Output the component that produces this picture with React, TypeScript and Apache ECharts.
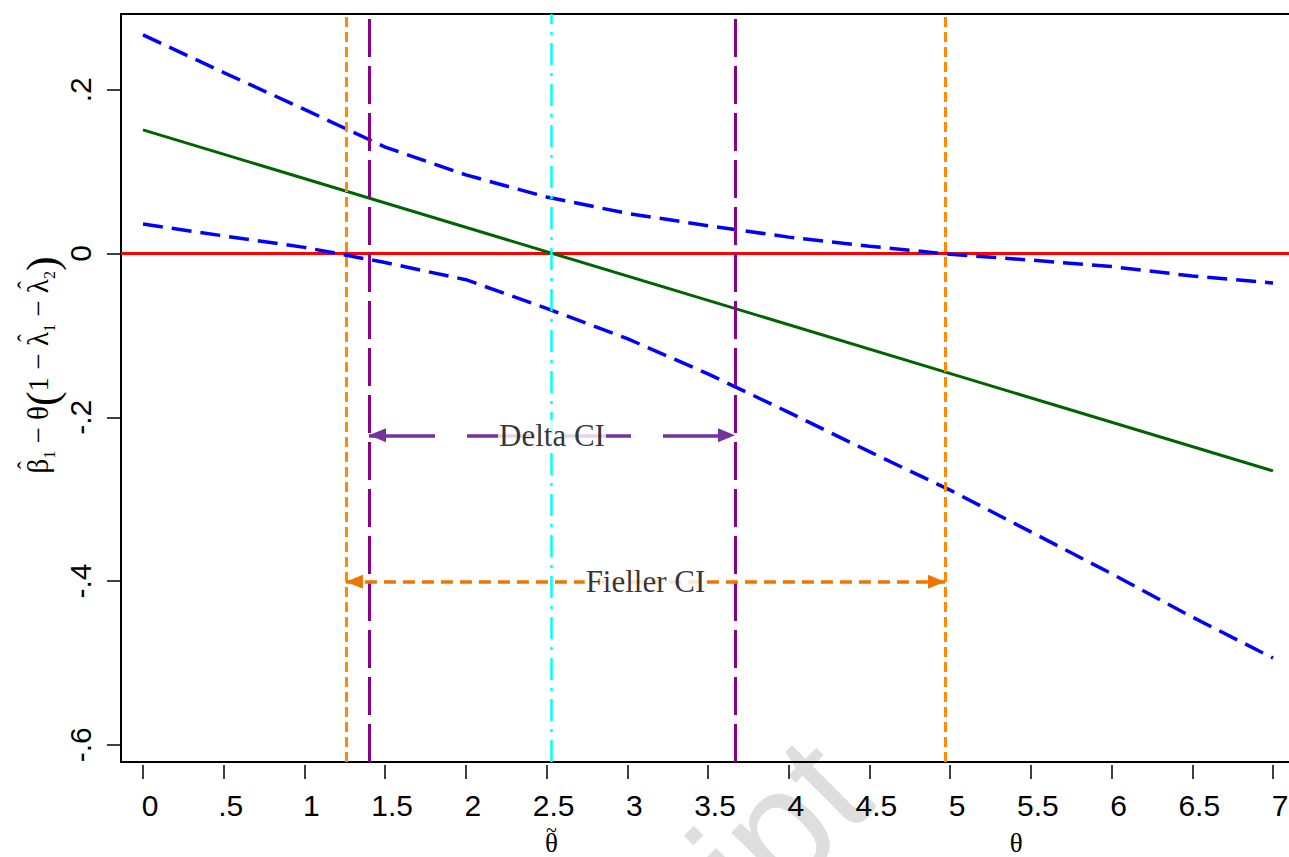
import React, { useEffect, useRef } from "react";
import * as echarts from "echarts";

// ---- data ----
const thetaGrid = [0, 0.5, 1, 1.5, 2, 2.5, 3, 3.5, 4, 4.5, 5, 5.5, 6, 6.5, 7];
const upperCI = [0.267, 0.221, 0.176, 0.13, 0.096, 0.069, 0.049, 0.034, 0.02, 0.009, -0.001, -0.008, -0.016, -0.0275, -0.036];
const lowerCI = [0.036, 0.0215, 0.0075, -0.011, -0.032, -0.067, -0.104, -0.147, -0.194, -0.242, -0.289, -0.34, -0.391, -0.444, -0.494];
const estTheta = [0, 7];
const estValues = [0.151, -0.2655];

const thetaTilde = 2.53;
const deltaCI = [1.4, 3.667];
const fiellerCI = [1.257, 4.968];
const deltaArrowY = -0.222;
const fiellerArrowY = -0.401;
const ciLabels = ["Delta CI", "Fieller CI"];

const xTicks = [0, 0.5, 1, 1.5, 2, 2.5, 3, 3.5, 4, 4.5, 5, 5.5, 6, 6.5, 7];
const xTickLabels = ["0", ".5", "1", "1.5", "2", "2.5", "3", "3.5", "4", "4.5", "5", "5.5", "6", "6.5", "7"];
const yTicks = [-0.6, -0.4, -0.2, 0, 0.2];
const yTickLabels = ["-.6", "-.4", "-.2", "0", ".2"];
const thetaMarks = [thetaTilde, 5.41];
const thetaMarkAccents = ["~", " "];

// y-axis title pieces: text, font size, offset across the baseline, hat
const yTitleTokens: [string, number, number, boolean][] = [
  ["β", 29, 0, true],
  ["1", 16, 11, false],
  [" − ", 29, 0, false],
  ["θ", 29, 0, false],
  ["(", 44, 4, false],
  ["1", 29, 0, false],
  [" − ", 29, 0, false],
  ["λ", 29, 0, true],
  ["1", 16, 11, false],
  [" − ", 29, 0, false],
  ["λ", 29, 0, true],
  ["2", 16, 11, false],
  [")", 44, 4, false],
];

const X_MIN = -0.1363;
const X_MAX = 7.3;
const Y_MIN = -0.621;
const Y_MAX = 0.2925;

const SANS = "Liberation Sans, Arial, Helvetica, sans-serif";
const SERIF = "Liberation Serif, Times New Roman, DejaVu Serif, serif";

function pickLabel(ticks: number[], labels: string[], v: number) {
  for (let i = 0; i < ticks.length; i++) {
    if (Math.abs(ticks[i] - v) < 1e-6) return labels[i];
  }
  return "";
}

function buildTitle() {
  const canvas = document.createElement("canvas");
  const ctx = canvas.getContext("2d")!;
  const widths = yTitleTokens.map(([t, s]) => {
    ctx.font = `${s}px "Liberation Serif", "Times New Roman", serif`;
    return ctx.measureText(t).width;
  });
  const total = widths.reduce((a, b) => a + b, 0);
  let cx = -total / 2;
  const children: any[] = [];
  yTitleTokens.forEach(([t, s, dy, hat], i) => {
    children.push({
      type: "text",
      x: cx,
      y: dy,
      style: { text: t, fontSize: s, fontFamily: SERIF, fill: "#000", align: "left", verticalAlign: "middle" },
    });
    if (hat) {
      children.push({
        type: "text",
        x: cx + widths[i] / 2 + 1,
        y: -12,
        style: { text: "ˆ", fontSize: 24, fontFamily: SERIF, fill: "#000", align: "center", verticalAlign: "middle" },
      });
    }
    cx += widths[i];
  });
  return { type: "group", x: 38, y: 365, rotation: Math.PI / 2, z: 10, children };
}

export default function App() {
  const ref = useRef<HTMLDivElement>(null);
  useEffect(() => {
    if (!ref.current) return;
    const chart = echarts.init(ref.current, null, { renderer: "svg" });
    const pxPerX = 161.43;
    const option: any = {
      animation: false,
      backgroundColor: "#ffffff",
      grid: {
        left: 121,
        top: 14,
        width: (X_MAX - X_MIN) * pxPerX,
        height: 748,
        outerBoundsMode: "none",
        containLabel: false,
        show: true,
        borderColor: "#000",
        borderWidth: 2,
        backgroundColor: "transparent",
      },
      xAxis: [
        {
          type: "value",
          min: X_MIN,
          max: X_MAX,
          offset: 3,
          axisLine: { show: false, onZero: false },
          splitLine: { show: false },
          axisTick: { show: true, length: 14, customValues: xTicks, lineStyle: { color: "#000", width: 1.5 } },
          axisLabel: {
            customValues: xTicks,
            formatter: (v: number) => pickLabel(xTicks, xTickLabels, v),
            fontSize: 30,
            fontFamily: SANS,
            color: "#000",
            margin: 25,
            padding: [0, 0, 0, 14],
          },
        },
        {
          type: "value",
          min: X_MIN,
          max: X_MAX,
          position: "bottom",
          offset: 3,
          axisLine: { show: false, onZero: false },
          splitLine: { show: false },
          axisTick: { show: false },
          axisLabel: {
            customValues: thetaMarks,
            formatter: (v: number) => "{tl|" + pickLabel(thetaMarks, thetaMarkAccents, v) + "}\n{th|θ}",
            color: "#000",
            margin: 62,
            rich: {
              tl: { fontSize: 20, lineHeight: 6, fontFamily: SERIF, color: "#000", align: "center" },
              th: { fontSize: 27, lineHeight: 20, fontFamily: SERIF, color: "#000", align: "center" },
            },
          },
        },
      ],
      yAxis: {
        type: "value",
        min: Y_MIN,
        max: Y_MAX,
        axisLine: { show: false, onZero: false },
        splitLine: { show: false },
        axisTick: { show: true, length: 14, customValues: yTicks, lineStyle: { color: "#000", width: 1.5 } },
        axisLabel: {
          customValues: yTicks,
          formatter: (v: number) => pickLabel(yTicks, yTickLabels, v),
          rotate: 90,
          fontSize: 30,
          fontFamily: SANS,
          color: "#000",
          margin: 26,
        },
      },
      graphic: [
        buildTitle(),
        {
          type: "text",
          x: 760,
          y: 845,
          rotation: Math.PI / 4,
          z: -10,
          silent: true,
          style: {
            text: "ript",
            fontSize: 160,
            fontFamily: SANS,
            fill: "#dedede",
            align: "center",
            verticalAlign: "middle",
          },
        },
      ],
      series: [
        {
          type: "line",
          name: "ref",
          data: [],
          z: 1,
          markLine: {
            silent: true,
            symbol: "none",
            z: 1,
            label: { show: false },
            data: [{ yAxis: 0, lineStyle: { color: "#ff0000", width: 3, type: "solid" } }],
          },
        },
        {
          type: "line",
          name: "upper",
          data: thetaGrid.map((t, i) => [t, upperCI[i]]),
          showSymbol: false,
          symbol: "none",
          z: 3,
          lineStyle: { color: "#0000ff", width: 3.5, type: [20, 9] },
        },
        {
          type: "line",
          name: "lower",
          data: thetaGrid.map((t, i) => [t, lowerCI[i]]),
          showSymbol: false,
          symbol: "none",
          z: 3,
          lineStyle: { color: "#0000ff", width: 3.5, type: [20, 9] },
        },
        {
          type: "line",
          name: "estimate",
          data: estTheta.map((t, i) => [t, estValues[i]]),
          showSymbol: false,
          symbol: "none",
          z: 3,
          lineStyle: { color: "#006400", width: 3 },
        },
        {
          type: "line",
          name: "verticals",
          data: [],
          z: 4,
          markLine: {
            silent: true,
            symbol: "none",
            z: 4,
            label: { show: false },
            data: [
              { xAxis: fiellerCI[0], lineStyle: { color: "#ff8c00", width: 3, type: [10, 5] } },
              { xAxis: fiellerCI[1], lineStyle: { color: "#ff8c00", width: 3, type: [10, 5] } },
              { xAxis: deltaCI[0], lineStyle: { color: "#8b008b", width: 3, type: [38, 9] } },
              { xAxis: deltaCI[1], lineStyle: { color: "#8b008b", width: 3, type: [38, 9] } },
              { xAxis: thetaTilde, lineStyle: { color: "#00ffff", width: 2.5, type: [22, 8, 3, 8] } },
            ],
          },
        },
        {
          type: "line",
          name: "arrows",
          data: [],
          z: 5,
          markLine: {
            silent: true,
            z: 5,
            symbol: ["triangle", "triangle"],
            symbolSize: [14, 17],
            symbolOffset: [[0, 8.5], [0, 8.5]],
            label: { show: false },
            data: [
              [
                { coord: [deltaCI[0], deltaArrowY], lineStyle: { color: "#7432a0", width: 3.5, type: [66, 32] }, itemStyle: { color: "#7432a0" } },
                { coord: [deltaCI[1], deltaArrowY] },
              ],
              [
                { coord: [fiellerCI[0], fiellerArrowY], lineStyle: { color: "#ee7600", width: 3.5, type: [12, 7] }, itemStyle: { color: "#ee7600" } },
                { coord: [fiellerCI[1], fiellerArrowY] },
              ],
            ],
          },
        },
        {
          type: "scatter",
          name: "ciText",
          z: 6,
          symbol: "circle",
          symbolSize: 1,
          itemStyle: { color: "rgba(0,0,0,0)" },
          data: [
            { value: [(deltaCI[0] + deltaCI[1]) / 2, deltaArrowY], name: ciLabels[0] },
            { value: [(fiellerCI[0] + fiellerCI[1]) / 2, fiellerArrowY], name: ciLabels[1] },
          ],
          label: {
            show: true,
            position: "inside",
            formatter: (p: any) => p.name,
            fontSize: 31,
            fontFamily: SERIF,
            color: "#000",
            backgroundColor: "#ffffff",
            padding: [0, 1],
          },
        },
      ],
    };
    chart.setOption(option);
    return () => chart.dispose();
  }, []);
  return (
    <div
      ref={ref}
      style={{ position: "fixed", left: 0, top: 0, width: 1289, height: 857, background: "#fff" }}
    />
  );
}
